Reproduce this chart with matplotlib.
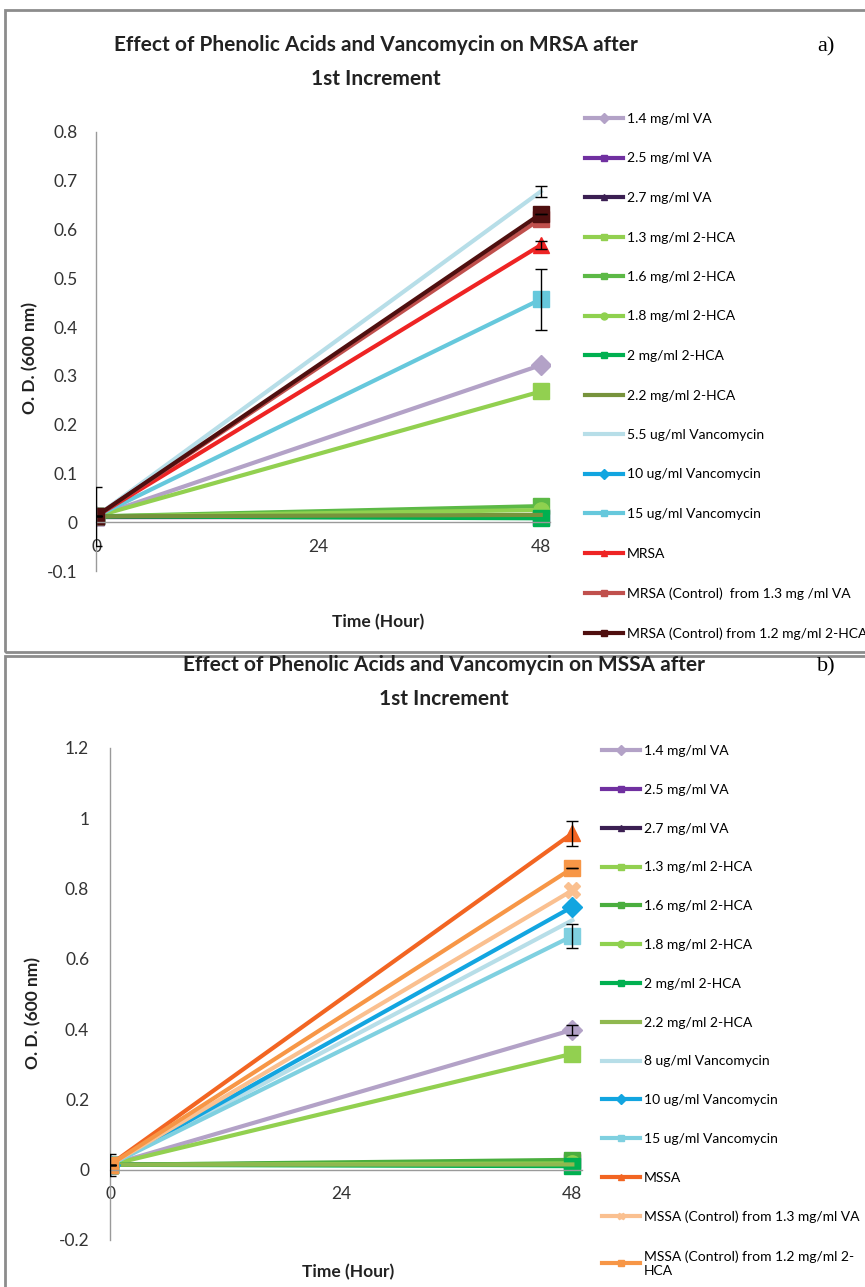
import matplotlib
matplotlib.use("Agg")
import matplotlib.pyplot as plt
from matplotlib.lines import Line2D
from matplotlib.patches import Rectangle

plt.rcParams['font.family'] = ['Lato', 'DejaVu Sans']

nan = float("nan")
time_h = [0, 48]

# ---- MRSA panel ----
mrsa_labels = ["1.4 mg/ml VA", "2.5 mg/ml VA", "2.7 mg/ml VA", "1.3 mg/ml 2-HCA",
               "1.6 mg/ml 2-HCA", "1.8 mg/ml 2-HCA", "2 mg/ml 2-HCA", "2.2 mg/ml 2-HCA",
               "5.5 ug/ml Vancomycin", "10 ug/ml Vancomycin", "15 ug/ml Vancomycin",
               "MRSA", "MRSA (Control)  from 1.3 mg /ml VA",
               "MRSA (Control) from 1.2 mg/ml 2-HCA"]
mrsa_t0 = [0.012, 0.010, 0.010, 0.012, 0.012, 0.012, 0.012, 0.012,
           0.012, nan, 0.012, 0.012, 0.012, 0.012]
mrsa_t48 = [0.322, 0.010, 0.010, 0.268, 0.033, 0.025, 0.008, 0.015,
            0.678, nan, 0.457, 0.568, 0.622, 0.632]
mrsa_err0 = [0, 0, 0, 0, 0, 0, 0, 0, 0, 0, 0, 0, 0, 0.06]
mrsa_err48 = [0, 0, 0, 0, 0, 0, 0, 0, 0.012, 0, 0.062, 0.008, 0, 0]

# ---- MSSA panel ----
mssa_labels = ["1.4 mg/ml VA", "2.5 mg/ml VA", "2.7 mg/ml VA", "1.3 mg/ml 2-HCA",
               "1.6 mg/ml 2-HCA", "1.8 mg/ml 2-HCA", "2 mg/ml 2-HCA", "2.2 mg/ml 2-HCA",
               "8 ug/ml Vancomycin", "10 ug/ml Vancomycin", "15 ug/ml Vancomycin",
               "MSSA", "MSSA (Control) from 1.3 mg/ml VA",
               "MSSA (Control) from 1.2 mg/ml 2-\nHCA"]
mssa_t0 = [0.014, 0.014, 0.014, 0.014, 0.014, 0.014, 0.014, 0.014,
           0.014, 0.014, 0.014, 0.014, 0.014, 0.014]
mssa_t48 = [0.398, 0.022, 0.020, 0.330, 0.028, 0.018, 0.010, 0.015,
            0.710, 0.748, 0.665, 0.957, 0.795, 0.858]
mssa_err0 = [0, 0, 0, 0, 0, 0, 0, 0, 0, 0, 0, 0, 0, 0.032]
mssa_err48 = [0.015, 0, 0, 0, 0, 0, 0, 0, 0, 0, 0.035, 0.035, 0, 0]

# line styles per series (same order in both panels)
colors_a = ["#b3a2c7", "#7030a0", "#3b1f52", "#92d050", "#5cb946", "#8fd14f",
            "#00b050", "#77933c", "#b7dee8", "#12a5e0", "#66c8dc", "#ee2424",
            "#c0504d", "#4f0f0f"]
colors_b = ["#b3a2c7", "#7030a0", "#3b1f52", "#92d050", "#4aae3e", "#8fd14f",
            "#00b050", "#8fb84f", "#b7dee8", "#12a5e0", "#7fd0e0", "#f26522",
            "#fac090", "#f79646"]
markers_a = ["D", "s", "^", "s", "s", "o", "s", None, None, "D", "s", "^", "s", "s"]
markers_b = ["D", "s", "^", "s", "s", "o", "s", None, None, "D", "s", "^", "X", "s"]

W, H = 865, 1287
fig = plt.figure(figsize=(W / 100, H / 100), dpi=100)


def px(x0, y0, w, h):
    return [x0 / W, 1 - (y0 + h) / H, w / W, h / H]


# panel frames
fig.add_artist(Rectangle((5 / W, 1 - 652 / H), 1, 642 / H, transform=fig.transFigure,
                         fill=False, edgecolor="#8c8c8c", linewidth=2))
fig.add_artist(Rectangle((5 / W, -0.01), 1, (1287 - 656) / H + 0.01, transform=fig.transFigure,
                         fill=False, edgecolor="#8c8c8c", linewidth=2))


def panel(rect, labels, t0, t48, e0, e48, colors, markers, ylim, yticks, ytl, ypad):
    ax = fig.add_axes(rect)
    for i in range(len(labels)):
        ax.plot(time_h, [t0[i], t48[i]], color=colors[i], lw=3,
                marker=markers[i], ms=11 if markers[i] != "D" else 10,
                mec=colors[i], mfc=colors[i], zorder=2 + i * 0.01)
        if e0[i] or e48[i]:
            ax.errorbar(time_h, [t0[i], t48[i]], yerr=[e0[i], e48[i]], fmt="none",
                        ecolor="black", elinewidth=1, capsize=4, capthick=1, zorder=5)
    ax.set_xlim(0, 49)
    ax.set_ylim(*ylim)
    for s in ["top", "right"]:
        ax.spines[s].set_visible(False)
    ax.spines["left"].set_position(("data", 0))
    ax.spines["bottom"].set_position(("data", 0))
    for s in ["left", "bottom"]:
        ax.spines[s].set_color("#9a9a9a")
        ax.spines[s].set_linewidth(1)
    ax.set_xticks([0, 24, 48])
    ax.set_yticks(yticks)
    ax.set_yticklabels(ytl)
    ax.tick_params(axis="x", length=0, pad=12, labelsize=12.5, colors="#333333")
    ax.tick_params(axis="y", length=0, pad=ypad, labelsize=12.5, colors="#333333")
    ax.patch.set_alpha(0)
    handles = [Line2D([], [], color=colors[i], lw=3, marker=markers[i],
                      ms=5, mfc=colors[i], mec=colors[i]) for i in range(len(labels))]
    return ax, handles


ax_a, h_a = panel(px(96, 132, 454, 439), mrsa_labels, mrsa_t0, mrsa_t48, mrsa_err0,
                  mrsa_err48, colors_a, markers_a, (-0.1, 0.8),
                  [-0.1, 0, 0.1, 0.2, 0.3, 0.4, 0.5, 0.6, 0.7, 0.8],
                  ["-0.1", "0", "0.1", "0.2", "0.3", "0.4", "0.5", "0.6", "0.7", "0.8"], 13)
ax_b, h_b = panel(px(110, 748, 472, 492), mssa_labels, mssa_t0, mssa_t48, mssa_err0,
                  mssa_err48, colors_b, markers_b, (-0.2, 1.2),
                  [-0.2, 0, 0.2, 0.4, 0.6, 0.8, 1.0, 1.2],
                  ["-0.2", "0", "0.2", "0.4", "0.6", "0.8", "1", "1.2"], 15)

leg_kw = dict(loc="upper left", frameon=False, fontsize=10, handlelength=2.7,
              handletextpad=0.3, borderaxespad=0, borderpad=0)
fig.legend(h_a, mrsa_labels, bbox_to_anchor=(585 / W, 1 - 113 / H),
           labelspacing=1.98, **leg_kw)
fig.legend(h_b, mssa_labels, bbox_to_anchor=(602 / W, 1 - 745 / H),
           labelspacing=1.93, **leg_kw)

title_kw = dict(ha="center", va="center", fontsize=15, fontweight="bold",
                color="#222222", linespacing=1.85)
fig.text(376 / W, 1 - 62 / H,
         "Effect of Phenolic Acids and Vancomycin on MRSA after\n1st Increment", **title_kw)
fig.text(444 / W, 1 - 682 / H,
         "Effect of Phenolic Acids and Vancomycin on MSSA after\n1st Increment", **title_kw)
fig.text(826 / W, 1 - 47 / H, "a)", family="Liberation Serif", fontsize=16,
         ha="center", va="center")
fig.text(826 / W, 1 - 667 / H, "b)", family="Liberation Serif", fontsize=16,
         ha="center", va="center")

lab_kw = dict(ha="center", va="center", fontsize=12.5, fontweight="bold", color="#222222")
fig.text(30 / W, 1 - 358 / H, "O. D. (600 nm)", rotation=90, **lab_kw)
fig.text(33 / W, 1 - 1013 / H, "O. D. (600 nm)", rotation=90, **lab_kw)
fig.text(378 / W, 1 - 622 / H, "Time (Hour)", **lab_kw)
fig.text(348 / W, 1 - 1272 / H, "Time (Hour)", **lab_kw)

fig.savefig("out.png", dpi=100)
